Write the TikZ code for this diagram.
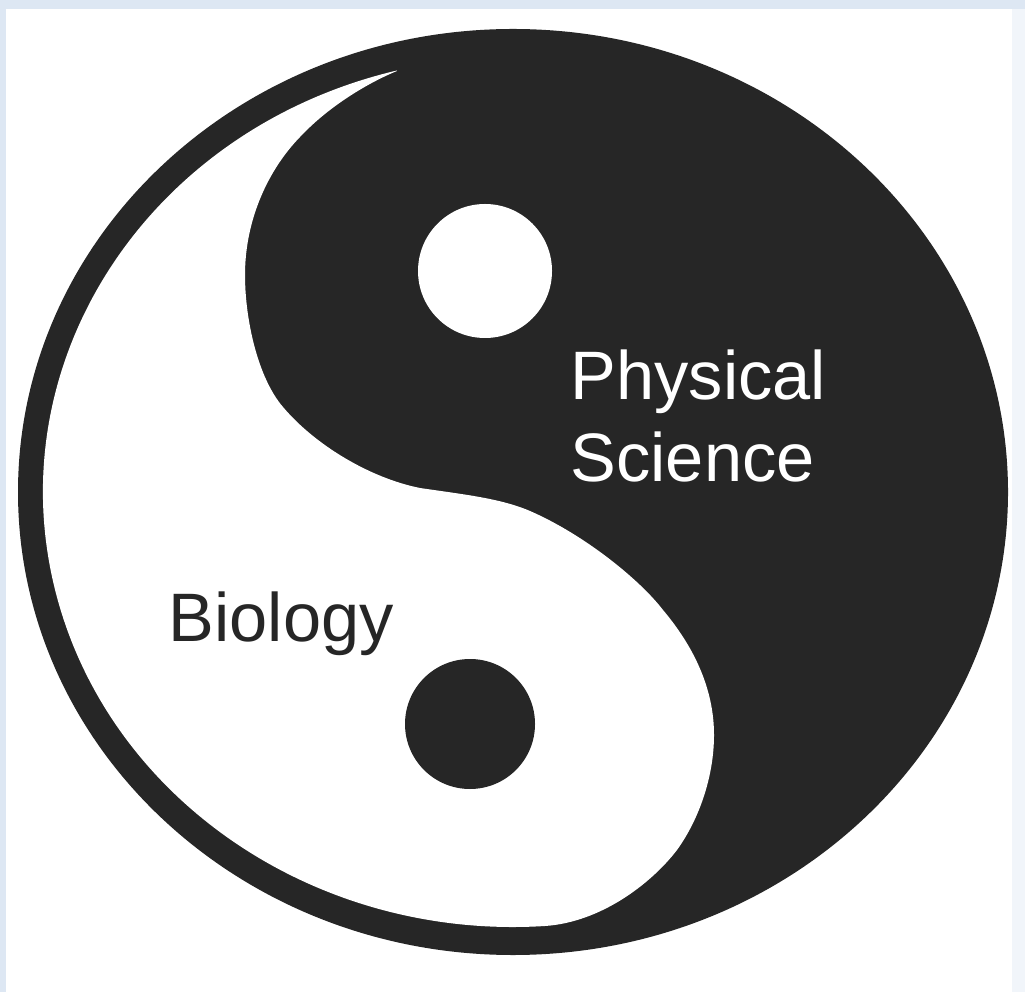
\documentclass[tikz,border=0pt]{standalone}
\usepackage{fontspec}
\setmainfont{Liberation Sans}
\usetikzlibrary{calc}
\definecolor{ink}{HTML}{262626}
\definecolor{framecol}{HTML}{DDE7F3}
\definecolor{framepale}{HTML}{F1F5FA}
\tikzset{
  label text/.style={font=\fontsize{19.5}{22}\selectfont, inner sep=0pt, anchor=base west},
}
\begin{document}
\begin{tikzpicture}[x=0.01cm,y=-0.01cm]
\useasboundingbox (0,0) rectangle (1025,992);
% frame
\fill[framecol] (0,0) rectangle (1025,992);
\fill[framepale] (6,9) rectangle (1025,992);
\fill[white] (6,9) rectangle (1012,992);
\coordinate (C) at (513,492);
% outer black disk
\fill[ink] (C) ellipse [x radius=495, y radius=463];
% white half
\fill[white] ($(C)+(255.7:470 and 435)$)
  arc[start angle=255.7, end angle=86, x radius=470, y radius=435]
  .. controls (600,922) and (650,885) .. (677,850)
  .. controls (700,818) and (714,775) .. (714,735)
  .. controls (714,690) and (695,648) .. (663,610)
  .. controls (640,580) and (585,535) .. (530,511)
  .. controls (500,498) and (460,494) .. (420,488)
  .. controls (370,478) and (315,445) .. (283,407)
  .. controls (258,378) and (245,320) .. (245,275)
  .. controls (245,220) and (268,170) .. (300,137)
  .. controls (330,105) and (370,82) .. (397,71)
  -- cycle;
% dots
\fill[white] (485,271) circle[radius=67];
\fill[ink] (470,724) circle[radius=65];
% labels
\node[label text, text=white] (phys) at (570,400) {Physical};
\node[label text, text=white] (sci) at (570,482) {Science};
\node[label text, text=ink] (bio) at (168,641) {Biology};
\end{tikzpicture}
\end{document}
